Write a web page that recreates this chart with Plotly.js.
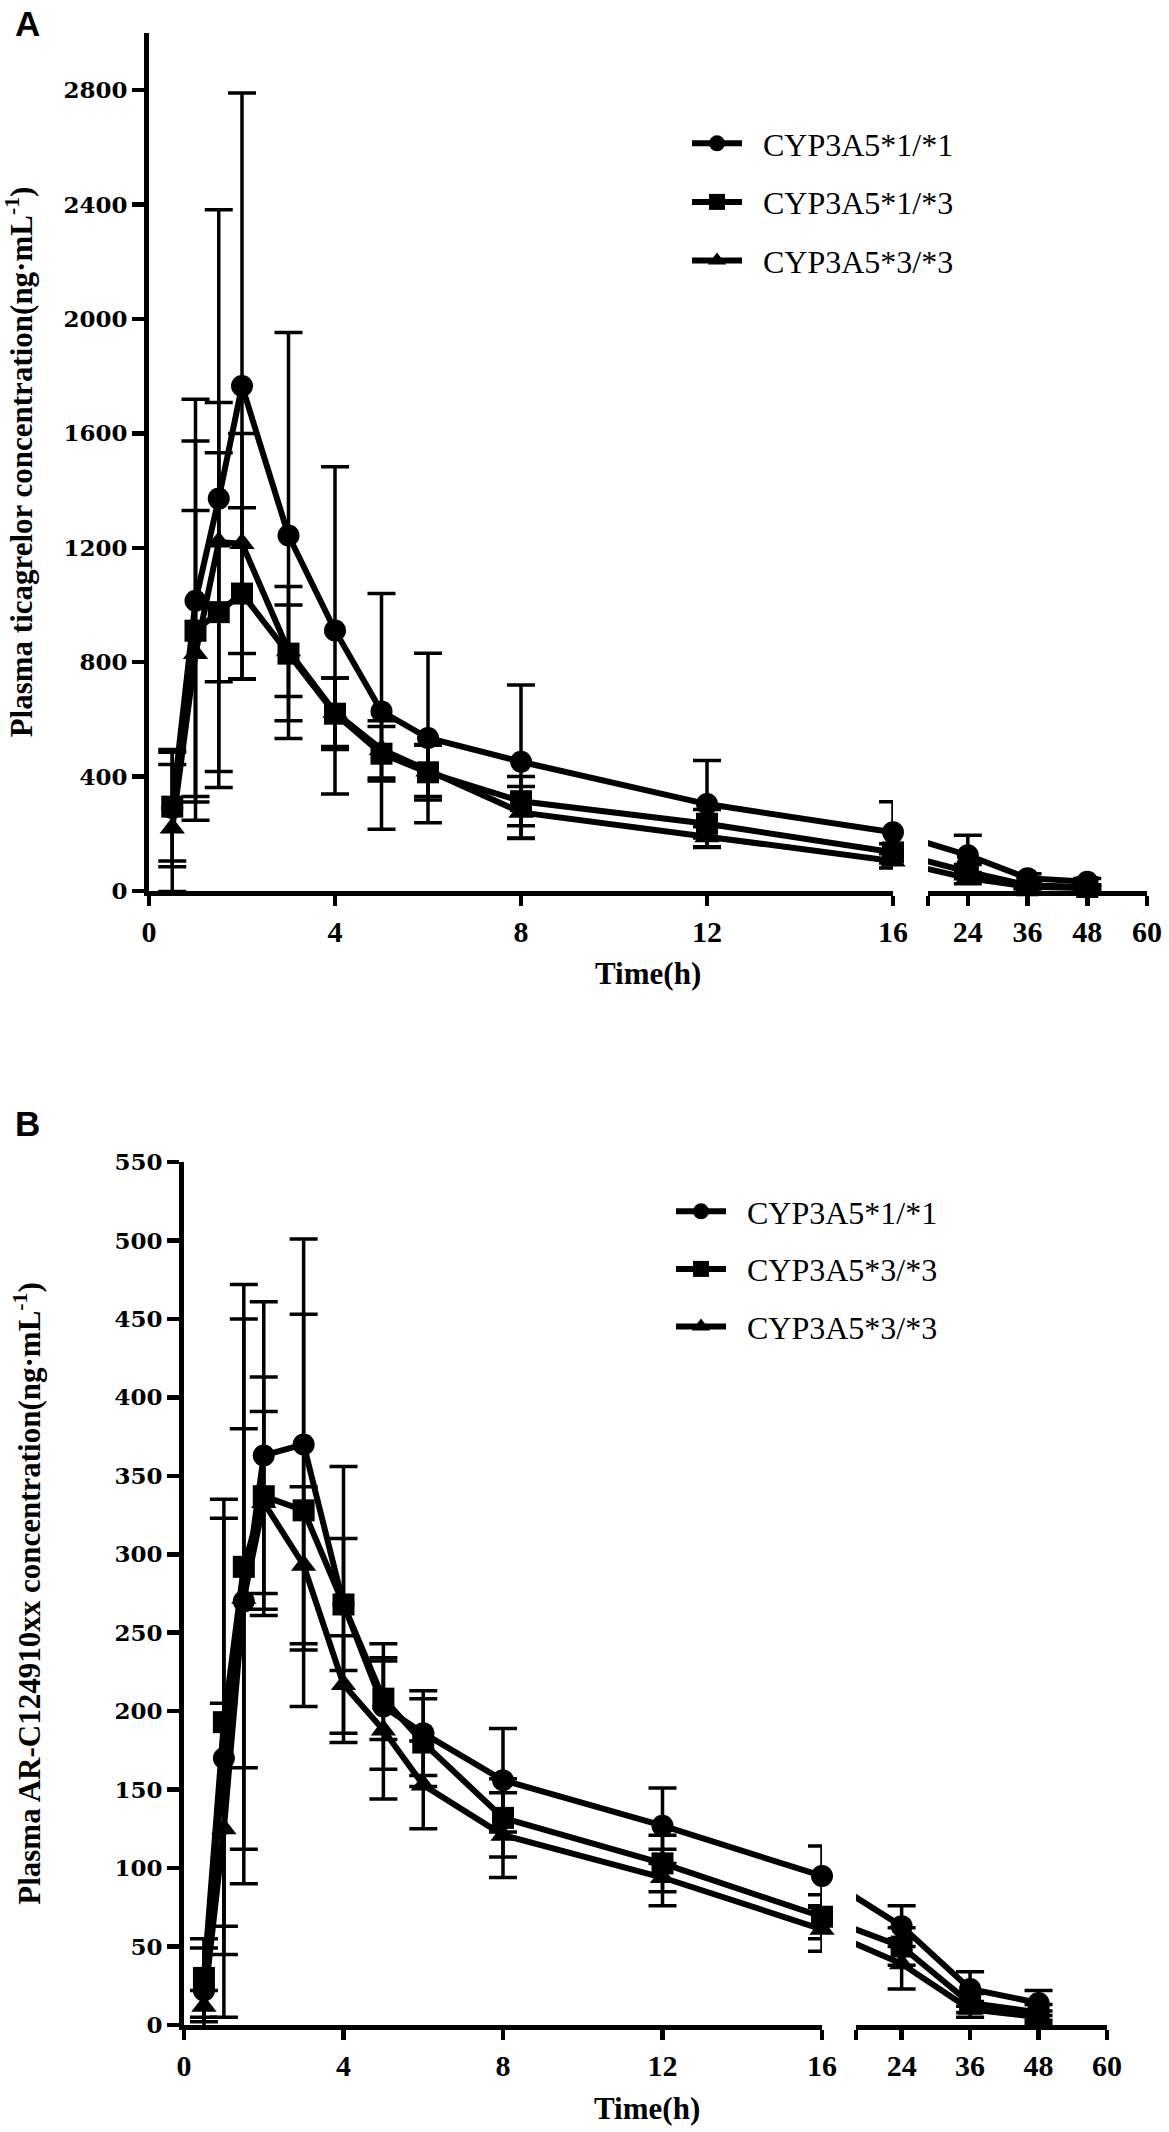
<!DOCTYPE html>
<html>
<head>
<meta charset="utf-8">
<script src="https://cdn.plot.ly/plotly-3.0.1.min.js"></script>
<style>
    body { margin: 0; background: #fff; }
</style>
</head>
<body>
<div id="chart" style="width:1169px;height:2132px;"></div>
<script>
// sampling times (h)
var time = [0.5, 1, 1.5, 2, 3, 4, 5, 6, 8, 12, 16, 24, 36, 48];

// panel A - ticagrelor, mean and SD per genotype
var ticaLabels = ['CYP3A5*1/*1', 'CYP3A5*1/*3', 'CYP3A5*3/*3'];
var tica11 = [290, 1015, 1372, 1766, 1243, 911, 628, 535, 452, 304, 205, 125, 45, 32];
var tica11sd = [205, 704, 1010, 1024, 710, 572, 412, 296, 268, 152, 107, 70, 15, 12];
var tica13 = [295, 910, 975, 1040, 830, 620, 480, 415, 314, 235, 135, 68, 20, 14];
var tica13sd = [190, 663, 557, 300, 235, 125, 95, 97, 86, 50, 30, 25, 10, 8];
var tica33 = [220, 830, 1220, 1215, 840, 625, 495, 420, 275, 190, 105, 45, 15, 10];
var tica33sd = [222, 500, 488, 385, 160, 120, 100, 90, 90, 35, 25, 20, 8, 6];

// panel B - AR-C124910xx, mean and SD per genotype
var arLabels = ['CYP3A5*1/*1', 'CYP3A5*3/*3', 'CYP3A5*3/*3'];
var ar11 = [22, 170, 270, 363, 370, 268, 203, 186, 156, 127, 95, 63, 23, 14];
var ar11sd = [27, 165, 180, 98, 131, 42, 40, 27, 33, 24, 19, 13, 11, 8];
var ar13 = [30, 193, 292, 337, 328, 268, 208, 180, 132, 103, 69, 50, 14, 8];
var ar13sd = [25, 130, 180, 76, 125, 88, 26, 28, 25, 18, 14, 12, 6, 5];
var ar33 = [12, 125, 272, 333, 293, 217, 188, 153, 121, 94, 61, 39, 10, 5];
var ar33sd = [10, 80, 108, 58, 50, 31, 44, 28, 27, 18, 14, 16, 5, 4];

var ticaTicks = [0, 400, 800, 1200, 1600, 2000, 2400, 2800];
var arTicks = [0, 50, 100, 150, 200, 250, 300, 350, 400, 450, 500, 550];
var seg1Ticks = [0, 4, 8, 12, 16];
var seg2Ticks = [24, 36, 48, 60];

var symbols = ['circle', 'square', 'triangle-up'];

var W = 1169, H = 2132;
var BREAK = 16, XMAX = 60;
var MSIZE = 22;
var PAD = '\u00a0\u00a0';   // a little room between legend symbol and text

function px(x) { return x / W; }
function py(y) { return 1 - y / H; }

// pixel frames of both panels
var panelA = { x1: [149, 893], x2: [928, 1147], y: [891, 33] };
var panelB = { x1: [184, 822], x2: [856, 1107], y: [2025, 1162] };

function makeTraces(mean, sd, label, symbol, panel, ax, legendId, group) {
    var t1 = [], y1 = [], e1 = [];
    var t2 = [], y2 = [], e2 = [], s2 = [];
    // line from the 16 h point crosses the gap straight, like the original
    var perHour = (panel.x2[1] - panel.x2[0]) / (XMAX - BREAK);
    var gap = panel.x2[0] - panel.x1[1];
    for (var i = 0; i < time.length; i++) {
        if (time[i] <= BREAK) {
            t1.push(time[i]); y1.push(mean[i]); e1.push(sd[i]);
        }
        if (time[i] === BREAK) {
            t2.push(BREAK - gap / perHour); y2.push(mean[i]); e2.push(NaN); s2.push(0);
        } else if (time[i] > BREAK) {
            t2.push(time[i]); y2.push(mean[i]); e2.push(sd[i]); s2.push(MSIZE);
        }
    }
    var common = {
        type: 'scatter',
        mode: 'lines+markers',
        line: { color: '#000', width: 6 },
        cliponaxis: false,
        legendgroup: group,
        legend: legendId,
        hoverinfo: 'skip'
    };
    var a = Object.assign({}, common, {
        x: t1, y: y1, name: PAD + label,
        xaxis: ax[0], yaxis: ax[2],
        marker: { symbol: symbol, size: MSIZE, color: '#000', opacity: 1, line: { width: 0 } },
        error_y: { type: 'data', array: e1, color: '#000', thickness: 3.5, width: 14 }
    });
    var b = Object.assign({}, common, {
        x: t2, y: y2, name: PAD + label, showlegend: false,
        xaxis: ax[1], yaxis: ax[2],
        marker: { symbol: symbol, size: s2, color: '#000', opacity: 1, line: { width: 0 } },
        error_y: { type: 'data', array: e2, color: '#000', thickness: 3.5, width: 14 }
    });
    return [a, b];
}

var data = [];
var ticaMeans = [tica11, tica13, tica33], ticaSds = [tica11sd, tica13sd, tica33sd];
var arMeans = [ar11, ar13, ar33], arSds = [ar11sd, ar13sd, ar33sd];
for (var g = 0; g < 3; g++) {
    data = data.concat(makeTraces(ticaMeans[g], ticaSds[g], ticaLabels[g], symbols[g],
        panelA, ['x', 'x2', 'y'], 'legend', 'a' + g));
}
for (var g = 0; g < 3; g++) {
    data = data.concat(makeTraces(arMeans[g], arSds[g], arLabels[g], symbols[g],
        panelB, ['x3', 'x4', 'y2'], 'legend2', 'b' + g));
}

var serif = 'Liberation Serif, Times New Roman, serif';
var tickFontX = { family: serif, size: 30, color: '#000', weight: 'bold' };
var tickFontY = { family: 'DejaVu Serif, serif', size: 23, color: '#000', weight: 'bold' };
var titleFont = { family: serif, size: 31, color: '#000', weight: 'bold' };

function xAxis(panel, seg, range, ticks, anchor, startCap) {
    var ax = {
        domain: [px(panel[seg][0]), px(panel[seg][1])],
        range: range, anchor: anchor,
        showline: true, linecolor: '#000', linewidth: 5,
        ticks: 'outside', ticklen: 10, tickwidth: 4.5, tickcolor: '#000',
        tickmode: 'array', tickvals: ticks, tickfont: tickFontX,
        showgrid: false, zeroline: false, automargin: false, fixedrange: true
    };
    if (startCap) {
        // unlabelled tick where the second segment starts
        ax.minor = { tickmode: 'array', tickvals: [range[0]], ticks: 'outside',
                     ticklen: 10, tickwidth: 4.5, tickcolor: '#000', showgrid: false };
    }
    return ax;
}

function yAxis(panel, range, ticks, title, anchor, standoff) {
    return {
        domain: [py(panel.y[0]), py(panel.y[1])],
        range: range, anchor: anchor,
        showline: true, linecolor: '#000', linewidth: 5,
        ticks: 'outside', ticklen: 12, tickwidth: 4.5, tickcolor: '#000',
        tickmode: 'array', tickvals: ticks, tickfont: tickFontY,
        title: { text: title, font: titleFont, standoff: standoff },
        showgrid: false, zeroline: false, automargin: false, fixedrange: true
    };
}

var legendFont = { family: serif, size: 32, color: '#000' };
var labelFont = { family: 'Liberation Sans, Arial, sans-serif', size: 35, color: '#000', weight: 'bold' };

function note(text, x, y, font) {
    return { text: text, x: px(x), y: py(y), xref: 'paper', yref: 'paper',
             xanchor: 'center', yanchor: 'middle', showarrow: false, font: font };
}

var layout = {
    width: W, height: H,
    margin: { l: 0, r: 0, t: 0, b: 0 },
    paper_bgcolor: '#fff', plot_bgcolor: '#fff',
    xaxis: xAxis(panelA, 'x1', [0, BREAK], seg1Ticks, 'y', false),
    xaxis2: xAxis(panelA, 'x2', [BREAK, XMAX], seg2Ticks, 'y', true),
    yaxis: yAxis(panelA, [0, 3000], ticaTicks, 'Plasma ticagrelor concentration(ng·mL<sup>-1</sup>)', 'x', 23),
    xaxis3: xAxis(panelB, 'x1', [0, BREAK], seg1Ticks, 'y2', false),
    xaxis4: xAxis(panelB, 'x2', [BREAK, XMAX], seg2Ticks, 'y2', true),
    yaxis2: yAxis(panelB, [0, 550], arTicks, 'Plasma AR-C124910xx concentration(ng·mL<sup>-1</sup>)', 'x3', 66),
    showlegend: true,
    legend: {
        x: px(687), y: py(116), xanchor: 'left', yanchor: 'top',
        font: legendFont, bgcolor: 'rgba(0,0,0,0)', borderwidth: 0,
        itemwidth: 50, tracegroupgap: 14, itemclick: false, itemdoubleclick: false
    },
    legend2: {
        x: px(671), y: py(1184), xanchor: 'left', yanchor: 'top',
        font: legendFont, bgcolor: 'rgba(0,0,0,0)', borderwidth: 0,
        itemwidth: 50, tracegroupgap: 13, itemclick: false, itemdoubleclick: false
    },
    annotations: [
        note('A', 27, 23, labelFont),
        note('B', 27, 1123, labelFont),
        note('Time(h)', 648, 973, titleFont),
        note('Time(h)', 647, 2108, titleFont)
    ]
};

Plotly.newPlot(document.getElementById('chart'), data, layout, { displayModeBar: false, staticPlot: true });
</script>
</body>
</html>
